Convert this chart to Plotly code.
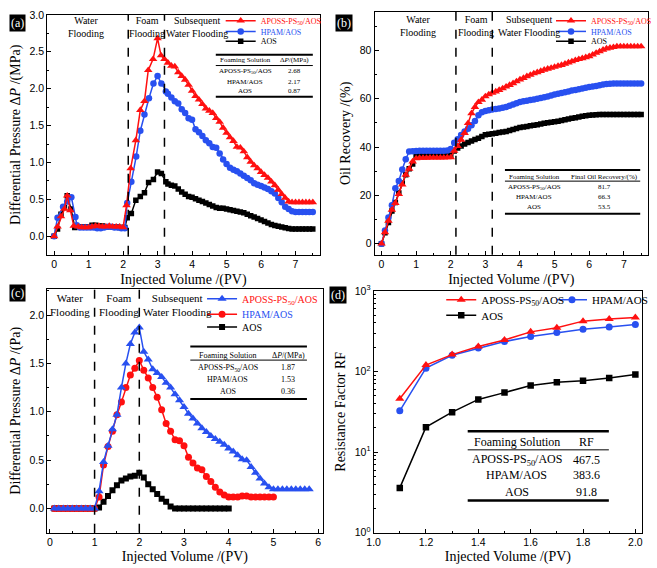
import plotly.graph_objects as go

W, H = 657, 568
def px(x): return x / W
def py(y): return 1 - y / H

# ---------------- DATA ----------------
SERIES = ["APOSS-PS<sub>50</sub>/AOS", "HPAM/AOS", "AOS"]

# (a) differential pressure, MPa
a_red_x = [0, 0.1, 0.2, 0.3, 0.38, 0.47, 0.57, 0.7, 0.8, 0.9, 1.0, 1.1, 1.2, 1.3, 1.4, 1.5, 1.6, 1.7, 1.8, 1.9, 2.0,
           2.1, 2.22, 2.37, 2.5, 2.62, 2.73, 2.87, 3.0, 3.1, 3.2, 3.3, 3.4, 3.5, 3.6, 3.7, 3.8, 3.9, 4.0, 4.1, 4.2,
           4.3, 4.4, 4.5, 4.6, 4.7, 4.8, 4.9, 5.0, 5.1, 5.2, 5.3, 5.4, 5.5, 5.6, 5.7, 5.8, 5.9, 6.0, 6.1, 6.2, 6.3,
           6.4, 6.5, 6.6, 6.7, 6.8, 6.9, 7.0, 7.1, 7.2, 7.3, 7.4, 7.5]
a_red_y = [0, 0.13, 0.27, 0.37, 0.55, 0.35, 0.14, 0.13, 0.12, 0.12, 0.12, 0.13, 0.14, 0.14, 0.13, 0.13, 0.14, 0.13, 0.13, 0.13, 0.12,
           0.42, 0.92, 1.30, 1.71, 1.83, 2.25, 2.40, 2.68, 2.45, 2.40, 2.35, 2.31, 2.30, 2.22, 2.17, 2.12, 2.05, 1.97, 1.90, 1.85,
           1.79, 1.73, 1.70, 1.67, 1.60, 1.55, 1.47, 1.40, 1.34, 1.29, 1.21, 1.20, 1.15, 1.07, 1.01, 0.96, 0.92, 0.87, 0.83, 0.79, 0.74,
           0.69, 0.63, 0.57, 0.52, 0.47, 0.46, 0.46, 0.46, 0.46, 0.46, 0.46, 0.46]
a_blue_x = [0, 0.1, 0.26, 0.38, 0.5, 0.62, 0.66, 0.75, 0.85, 0.95, 1.05, 1.15, 1.25, 1.35, 1.45, 1.55, 1.65, 1.75, 1.85, 1.95, 2.05,
            2.12, 2.24, 2.38, 2.5, 2.62, 2.75, 2.88, 3.0, 3.11, 3.24, 3.3, 3.4, 3.5, 3.6, 3.7, 3.8, 3.9, 4.0, 4.1, 4.2, 4.3,
            4.4, 4.5, 4.6, 4.7, 4.8, 4.9, 5.0, 5.1, 5.2, 5.3, 5.4, 5.5, 5.6, 5.7, 5.8, 5.9, 6.0, 6.1, 6.2, 6.3, 6.4, 6.5,
            6.6, 6.7, 6.8, 6.9, 7.0, 7.1, 7.2, 7.3, 7.4, 7.5]
a_blue_y = [0, 0.25, 0.40, 0.47, 0.53, 0.26, 0.15, 0.12, 0.12, 0.12, 0.12, 0.12, 0.11, 0.11, 0.12, 0.13, 0.13, 0.12, 0.12, 0.11, 0.11,
            0.45, 0.74, 1.08, 1.43, 1.65, 1.87, 2.07, 2.17, 2.07, 1.96, 1.93, 1.88, 1.83, 1.80, 1.72, 1.67, 1.60, 1.58, 1.45, 1.41, 1.36,
            1.30, 1.26, 1.21, 1.20, 1.12, 1.04, 0.98, 0.93, 0.90, 0.88, 0.85, 0.82, 0.79, 0.76, 0.72, 0.70, 0.68, 0.66, 0.64, 0.61, 0.58, 0.52,
            0.46, 0.40, 0.37, 0.34, 0.33, 0.33, 0.33, 0.33, 0.33, 0.33]
a_blk_x = [0, 0.1, 0.2, 0.3, 0.38, 0.49, 0.6, 0.7, 0.8, 0.9, 1.0, 1.1, 1.2, 1.3, 1.4, 1.5, 1.6, 1.7, 1.8, 1.9, 2.0, 2.05,
           2.12, 2.24, 2.37, 2.5, 2.62, 2.74, 2.88, 3.0, 3.11, 3.24, 3.3, 3.4, 3.5, 3.6, 3.7, 3.8, 3.9, 4.0, 4.1, 4.2, 4.3,
           4.4, 4.5, 4.6, 4.7, 4.8, 4.9, 5.0, 5.1, 5.2, 5.3, 5.4, 5.5, 5.6, 5.7, 5.8, 5.9, 6.0, 6.1, 6.2, 6.3, 6.4, 6.5,
           6.6, 6.7, 6.8, 6.9, 7.0, 7.1, 7.2, 7.3, 7.4, 7.5]
a_blk_y = [0, 0.10, 0.30, 0.39, 0.55, 0.37, 0.12, 0.13, 0.13, 0.13, 0.13, 0.15, 0.15, 0.14, 0.14, 0.13, 0.13, 0.13, 0.13, 0.12, 0.12, 0.12,
           0.25, 0.31, 0.49, 0.54, 0.59, 0.73, 0.77, 0.87, 0.85, 0.74, 0.71, 0.69, 0.68, 0.64, 0.60, 0.57, 0.54, 0.53, 0.51, 0.49, 0.47,
           0.45, 0.43, 0.41, 0.39, 0.38, 0.38, 0.37, 0.36, 0.35, 0.34, 0.33, 0.32, 0.30, 0.28, 0.26, 0.24, 0.22, 0.20, 0.18, 0.16, 0.145, 0.135,
           0.125, 0.115, 0.105, 0.10, 0.10, 0.10, 0.10, 0.10, 0.10, 0.10]

# (b) oil recovery, %
b_x = [0, 0.1, 0.2, 0.3, 0.4, 0.5, 0.6, 0.7, 0.8, 0.9, 1.0, 1.1, 1.2, 1.3, 1.4, 1.5, 1.6, 1.7, 1.8, 1.9, 2.0,
       2.1, 2.2, 2.3, 2.4, 2.5, 2.6, 2.7, 2.8, 2.9, 3.0, 3.1, 3.2, 3.3, 3.4, 3.5, 3.6, 3.7, 3.8, 3.9, 4.0,
       4.1, 4.2, 4.3, 4.4, 4.5, 4.6, 4.7, 4.8, 4.9, 5.0, 5.1, 5.2, 5.3, 5.4, 5.5, 5.6, 5.7, 5.8, 5.9, 6.0,
       6.1, 6.2, 6.3, 6.4, 6.5, 6.6, 6.7, 6.8, 6.9, 7.0, 7.1, 7.2, 7.3, 7.4, 7.5]
b_red = [0, 4.7, 9.4, 14.0, 16.8, 20.5, 24.5, 28.5, 31.0, 34.0, 35.3, 35.5, 35.5, 35.5, 35.6, 35.6, 35.6, 35.6, 35.6, 35.7, 35.7,
         38.4, 40.4, 43.0, 45.8, 49.9, 54.0, 56.6, 58.6, 59.6, 61.0, 61.8, 62.5, 63.0, 63.6, 64.3, 65.0, 65.7, 66.4, 67.2, 68.0,
         68.6, 69.3, 69.9, 70.5, 71.0, 71.5, 72.0, 72.4, 72.8, 73.2, 73.6, 74.0, 74.5, 75.0, 75.5, 76.0, 76.4, 76.8, 77.2, 77.6,
         78.3, 79.0, 79.6, 80.3, 80.8, 81.1, 81.4, 81.7, 81.7, 81.7, 81.7, 81.7, 81.7, 81.7, 81.7]
b_blue = [0, 5.4, 10.8, 15.9, 22.9, 26.0, 30.7, 35.0, 38.2, 38.3, 38.4, 38.5, 38.5, 38.5, 38.5, 38.5, 38.5, 38.5, 38.5, 38.6, 39.2,
          41.8, 43.2, 45.0, 46.5, 47.6, 49.0, 50.8, 53.2, 54.4, 55.0, 55.3, 55.6, 55.8, 56.0, 56.3, 56.6, 57.1, 57.6, 58.2, 58.7,
          59.0, 59.2, 59.5, 59.7, 60.0, 60.3, 60.6, 61.0, 61.4, 61.8, 62.1, 62.4, 62.7, 63.0, 63.4, 63.7, 64.0, 64.3, 64.6, 64.9,
          65.1, 65.3, 65.6, 65.9, 66.1, 66.2, 66.3, 66.3, 66.3, 66.3, 66.3, 66.3, 66.3, 66.3, 66.3]
b_blk = [0, 4.5, 8.8, 13.5, 17.0, 21.0, 25.0, 28.5, 31.0, 33.0, 36.3, 36.5, 36.5, 36.5, 36.5, 36.5, 36.6, 36.6, 36.6, 36.6, 36.6,
         38.4, 39.6, 40.5, 41.3, 41.9, 42.5, 43.1, 43.7, 44.4, 45.1, 45.3, 45.5, 45.7, 46.0, 46.2, 46.5, 46.9, 47.3, 47.7, 48.1,
         48.3, 48.5, 48.8, 49.0, 49.3, 49.6, 49.9, 50.1, 50.3, 50.5, 50.7, 51.0, 51.3, 51.6, 51.9, 52.2, 52.5, 52.8, 53.0, 53.2,
         53.3, 53.4, 53.5, 53.5, 53.5, 53.5, 53.5, 53.5, 53.5, 53.5, 53.5, 53.5, 53.5, 53.5, 53.5]

# (c) differential pressure
c_x = [0.1, 0.2, 0.3, 0.4, 0.5, 0.6, 0.7, 0.8, 0.9, 1.0, 1.1, 1.2, 1.3, 1.4, 1.5, 1.6, 1.7, 1.8, 1.9, 2.0,
       2.1, 2.2, 2.3, 2.4, 2.5, 2.6, 2.7, 2.8, 2.9, 3.0, 3.1, 3.2, 3.3, 3.4, 3.5, 3.6, 3.7, 3.8, 3.9, 4.0,
       4.1, 4.2, 4.3, 4.4, 4.5, 4.6, 4.7, 4.8, 4.9, 5.0, 5.1, 5.2, 5.3, 5.4, 5.5, 5.6, 5.7, 5.8]
c_aposs = [0, 0, 0, 0, 0, 0, 0, 0, 0, 0, 0.18, 0.48, 0.65, 0.82, 0.97, 1.25, 1.50, 1.70, 1.82, 1.87,
           1.62, 1.54, 1.44, 1.40, 1.36, 1.30, 1.25, 1.18, 1.12, 1.05, 0.98, 0.93, 0.88, 0.83, 0.79, 0.75, 0.72, 0.69, 0.66, 0.62,
           0.59, 0.55, 0.51, 0.50, 0.43, 0.37, 0.31, 0.26, 0.22, 0.20, 0.20, 0.20, 0.20, 0.20, 0.20, 0.20, 0.20, 0.20]
c_hpam = [0, 0, 0, 0, 0, 0, 0, 0, 0, 0, 0.12, 0.45, 0.64, 0.80, 0.97, 1.10, 1.25, 1.38, 1.45, 1.53,
          1.43, 1.35, 1.25, 1.15, 1.02, 0.88, 0.80, 0.71, 0.70, 0.65, 0.53, 0.47, 0.42, 0.40, 0.33, 0.28, 0.22, 0.17, 0.14, 0.12,
          0.12, 0.12, 0.13, 0.13, 0.12, 0.12, 0.12, 0.12, 0.12, 0.12]
c_aos = [0, 0, 0, 0, 0, 0, 0, 0, 0, 0, 0.01, 0.07, 0.13, 0.19, 0.24, 0.29, 0.31, 0.33, 0.34, 0.37,
         0.32, 0.25, 0.20, 0.15, 0.10, 0.07, 0.02, 0.0, 0.0, 0.0, 0.0, 0.0, 0.0, 0.0, 0.0, 0.0, 0.0, 0.0, 0.0, 0.0]

# (d) resistance factor
d_x = [1.1, 1.2, 1.3, 1.4, 1.5, 1.6, 1.7, 1.8, 1.9, 2.0]
d_aposs = [46, 120, 162, 204, 246, 310, 348, 421, 446, 467.5]
d_hpam = [32.5, 110, 159, 195, 235, 272, 305, 335, 355, 383.6]
d_aos = [3.6, 20.4, 31.3, 45, 54.7, 67, 73.6, 77, 83, 91.8]

# tables
tab_a = [("APOSS-PS<sub>50</sub>/AOS", "2.68"), ("HPAM/AOS", "2.17"), ("AOS", "0.87")]
tab_b = [("APOSS-PS<sub>50</sub>/AOS", "81.7"), ("HPAM/AOS", "66.3"), ("AOS", "53.5")]
tab_c = [("APOSS-PS<sub>50</sub>/AOS", "1.87"), ("HPAM/AOS", "1.53"), ("AOS", "0.36")]
tab_d = [("APOSS-PS<sub>50</sub>/AOS", "467.5"), ("HPAM/AOS", "383.6"), ("AOS", "91.8")]

bounds_ab = [2.15, 3.2]
bounds_c = [1.0, 2.0]

RED = "#FF1010"
BLUE = "#2850F0"
BLACK = "#000000"
SERIF = "Liberation Serif"
SANS = "Liberation Sans"

fig = go.Figure()

def add(xa, ya, x, y, color, symbol, size, name, legend):
    fig.add_trace(go.Scatter(
        x=x, y=y, xaxis=xa, yaxis=ya, mode="lines+markers", name=name, legend=legend,
        line=dict(color=color, width=1.5),
        marker=dict(symbol=symbol, size=size, color=color, line=dict(width=0)),
    ))

# (a)
add("x", "y", a_blk_x, a_blk_y, BLACK, "square", 5.5, SERIES[2], "legend3")
add("x", "y", a_blue_x, a_blue_y, BLUE, "circle", 6.5, SERIES[1], "legend2")
add("x", "y", a_red_x, a_red_y, RED, "triangle-up", 7.5, SERIES[0], "legend")
# (b)
add("x2", "y2", b_x, b_blk, BLACK, "square", 5.5, SERIES[2], "legend6")
add("x2", "y2", b_x, b_blue, BLUE, "circle", 6.5, SERIES[1], "legend5")
add("x2", "y2", b_x, b_red, RED, "triangle-up", 7.5, SERIES[0], "legend4")
# (c)
add("x3", "y3", c_x[:len(c_aos)], c_aos, BLACK, "square", 6, SERIES[2], "legend9")
add("x3", "y3", c_x[:len(c_hpam)], c_hpam, RED, "circle", 7, SERIES[1], "legend8")
add("x3", "y3", c_x[:len(c_aposs)], c_aposs, BLUE, "triangle-up", 8, SERIES[0], "legend7")
# (d)
add("x4", "y4", d_x, d_aos, BLACK, "square", 6.5, SERIES[2], "legend12")
add("x4", "y4", d_x, d_hpam, BLUE, "circle", 7, SERIES[1], "legend11")
add("x4", "y4", d_x, d_aposs, RED, "triangle-up", 8, SERIES[0], "legend10")

def ax(dom, rng, **kw):
    d = dict(domain=dom, range=rng, showline=True, linecolor="black", linewidth=1, mirror=True,
             ticks="inside", ticklen=4, tickwidth=1, tickcolor="black", showgrid=False, zeroline=False,
             tickfont=dict(family=SANS, size=10.5, color="black"),
             title_font=dict(family=SERIF, size=14, color="black", weight="normal"))
    d.update(kw)
    return d

minor = lambda dt: dict(ticks="inside", ticklen=2, dtick=dt, showgrid=False, tickcolor="black")
XT = "Injected Volume /(PV)"

fig.update_layout(
    width=W, height=H, margin=dict(l=0, r=0, t=0, b=0),
    paper_bgcolor="white", plot_bgcolor="white",
    xaxis=ax([px(41), px(319)], [-0.2, 7.7], anchor="y", dtick=1, minor=minor(0.5),
             title=dict(text=XT, standoff=4)),
    yaxis=ax([py(253), py(7)], [-0.25, 3.0], anchor="x", dtick=0.5, tickformat=".1f", minor=minor(0.25),
             title=dict(text="Differential Pressure Δ<i>P</i> /(MPa)", standoff=5)),
    xaxis2=ax([px(375), px(654)], [-0.2, 7.7], anchor="y2", dtick=1, minor=minor(0.5),
              title=dict(text=XT, standoff=4)),
    yaxis2=ax([py(253), py(4)], [-4.6, 96], anchor="x2", dtick=20, minor=minor(10),
              title=dict(text="Oil Recovery /(%)", standoff=5)),
    xaxis3=ax([px(41), px(322)], [-0.06, 6.1], anchor="y3", dtick=1, minor=minor(0.5),
              title=dict(text=XT, standoff=3)),
    yaxis3=ax([py(538), py(288)], [-0.25, 2.27], anchor="x3", dtick=0.5, tickformat=".1f", minor=minor(0.25),
              title=dict(text="Differential Pressure Δ<i>P</i> /(Pa)", standoff=5)),
    xaxis4=ax([px(374), px(648)], [1.0, 2.026], anchor="y4", dtick=0.2, tickformat=".1f", minor=minor(0.1),
              title=dict(text=XT, standoff=3)),
    yaxis4=ax([py(538), py(290)], [0, 3], anchor="x4", type="log",
              tickmode="array", tickvals=[1, 10, 100, 1000],
              ticktext=["10<sup>0</sup>", "10<sup>1</sup>", "10<sup>2</sup>", "10<sup>3</sup>"],
              minor=dict(ticks="inside", ticklen=2, dtick="D1", showgrid=False, tickcolor="black"),
              title=dict(text="Resistance Factor RF", standoff=5)),
    showlegend=True,
)

# legends: one per entry so each can sit exactly
def leg(name, x, y, size, color):
    fig.update_layout({name: dict(x=px(x), y=py(y), xanchor="left", yanchor="middle",
                                  bgcolor="rgba(0,0,0,0)", borderwidth=0, itemwidth=30,
                                  font=dict(family=SERIF, size=size, color=color))})

leg("legend", 218, 13, 8, RED); leg("legend2", 218, 24, 8, BLUE); leg("legend3", 218, 34, 8, BLACK)
leg("legend4", 555, 13, 8, RED); leg("legend5", 555, 24, 8, BLUE); leg("legend6", 555, 34, 8, BLACK)
leg("legend7", 199, 298, 10, RED); leg("legend8", 199, 314, 10, BLUE); leg("legend9", 199, 327, 10, BLACK)
leg("legend10", 443, 299, 11, BLACK); leg("legend11", 556, 299, 11, BLACK); leg("legend12", 443, 315, 11, BLACK)

shapes = []
ann = []

for b in bounds_ab:
    shapes.append(dict(type="line", xref="x", yref="y domain", x0=b, x1=b, y0=0, y1=1,
                       line=dict(color="black", width=1.5, dash="dash")))
    shapes.append(dict(type="line", xref="x2", yref="y2 domain", x0=b, x1=b, y0=0, y1=1,
                       line=dict(color="black", width=1.5, dash="dash")))
for b in bounds_c:
    shapes.append(dict(type="line", xref="x3", yref="y3 domain", x0=b, x1=b, y0=0, y1=1,
                       line=dict(color="black", width=1.5, dash="dash")))

def text(x, y, s, size, color="black", family=SERIF, **kw):
    d = dict(x=px(x), y=py(y), xref="paper", yref="paper", text=s, showarrow=False,
             xanchor="center", yanchor="middle", font=dict(family=family, size=size, color=color))
    d.update(kw)
    ann.append(d)

# section labels
for cx, s in [(81, "Water<br>Flooding"), (143, "Foam<br>Flooding"), (194, "Subsequent<br>Water Flooding")]:
    text(cx, 19.5, s, 10)
for cx, s in [(419, "Water<br>Flooding"), (478, "Foam<br>Flooding"), (533, "Subsequent<br>Water Flooding")]:
    text(cx, 18.5, s, 10)
for cx, s in [(64, "Water<br>Flooding"), (114, "Foam<br>Flooding"), (174, "Subsequent<br>Water Flooding")]:
    text(cx, 304.5, s, 11)

def table(x0, x1, ytop, yhead, ythin, yrows, ybot, c1, c2, head2, rows, fs, thick=2):
    shapes.append(dict(type="line", xref="paper", yref="paper", x0=px(x0), x1=px(x1), y0=py(ytop), y1=py(ytop),
                       line=dict(color="black", width=thick)))
    shapes.append(dict(type="line", xref="paper", yref="paper", x0=px(x0), x1=px(x1), y0=py(ythin), y1=py(ythin),
                       line=dict(color="black", width=1)))
    shapes.append(dict(type="line", xref="paper", yref="paper", x0=px(x0), x1=px(x1), y0=py(ybot), y1=py(ybot),
                       line=dict(color="black", width=thick)))
    text(c1, yhead, "Foaming Solution", fs)
    text(c2, yhead, head2, fs)
    for (n, v), yy in zip(rows, yrows):
        text(c1, yy, n, fs)
        text(c2, yy, v, fs)

table(213, 312, 48, 53.5, 59, [65, 75.5, 85.5], 91, 243, 293, "Δ<i>P</i>/(MPa)", tab_a, 7)
table(508, 646, 166, 173, 177.5, [184, 194, 204], 211, 538, 610, "Final Oil Recovery/(%)", tab_b, 7)
table(187, 306, 347, 356, 361, [369, 381, 393], 401, 225, 287, "Δ<i>P</i>/(MPa)", tab_c, 8)
table(470, 614, 434, 445, 453, [463, 479, 496], 505, 520, 591, "RF", tab_d, 12, thick=2.5)

# panel labels
for x, y, s in [(2, 6, "(a)"), (335, 6, "(b)"), (2, 283, "(c)"), (329, 285, "(d)")]:
    ann.append(dict(x=px(x), y=py(y), xref="paper", yref="paper", text=s, showarrow=False,
                    xanchor="left", yanchor="top", bgcolor="black", borderpad=1,
                    font=dict(family=SERIF, size=12, color="white")))

fig.update_layout(shapes=shapes, annotations=ann)
fig.write_html("out.html")
